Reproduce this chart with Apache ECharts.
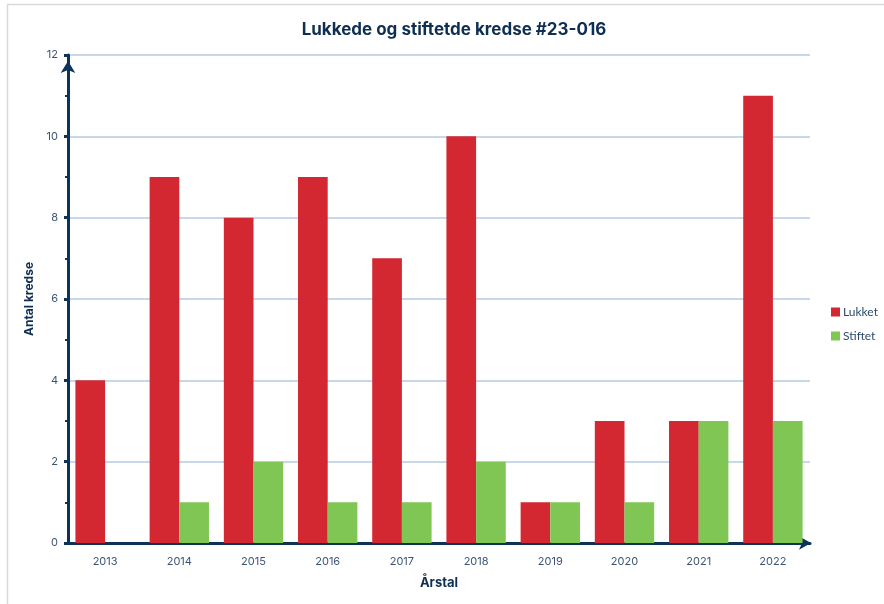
<!DOCTYPE html>
<html><head><meta charset="utf-8">
<script src="https://cdn.jsdelivr.net/npm/echarts@6/dist/echarts.min.js"></script>
<style>html,body{margin:0;padding:0;background:#fff}#c{width:884px;height:604px}</style>
</head><body><div id="c"></div>
<script>
const years = ['2013','2014','2015','2016','2017','2018','2019','2020','2021','2022'];
const lukket = [4,9,8,9,7,10,1,3,3,11];
const stiftet = [0,1,2,1,1,2,1,1,3,3];
const navy = '#0d3358';
const font = 'Inter';
const chart = echarts.init(document.getElementById('c'));
chart.setOption({
  animation:false,
  backgroundColor:'#fff',
  textStyle:{fontFamily:font},
  title:{text:'Lukkede og stiftetde kredse #23-016',left:449,top:16,textAlign:'center',
    textStyle:{fontFamily:font,fontSize:17,fontWeight:'bold',color:'#0e2f52'}},
  graphic:[
    {type:'line',shape:{x1:7,y1:4.5,x2:884,y2:4.5},style:{stroke:'#d9d9d9',lineWidth:1.5}},
    {type:'line',shape:{x1:7.5,y1:4,x2:7.5,y2:604},style:{stroke:'#d9d9d9',lineWidth:1.5}}
  ],
  legend:{orient:'vertical',left:826,top:301,itemWidth:9,itemHeight:9,itemGap:12,
    icon:'rect',textStyle:{fontFamily:'Lato',fontSize:12,color:'#2c4a6b',padding:[0,0,0,-2]},
    data:['Lukket','Stiftet']},
  grid:{left:68,right:74,top:55,bottom:61},
  xAxis:{type:'category',data:years,
    name:'Årstal',nameLocation:'middle',nameGap:34,
    nameTextStyle:{fontFamily:font,fontSize:13,fontWeight:'bold',color:'#0e2f52'},
    axisLine:{lineStyle:{color:navy,width:3},symbol:['none','arrow'],symbolSize:[10,12],symbolOffset:[0,1]},
    axisTick:{show:false},
    axisLabel:{margin:13,fontSize:11,color:'#3d5575',fontFamily:font}},
  yAxis:{type:'value',min:0,max:12,interval:2,
    name:'Antal kredse',nameLocation:'middle',nameGap:31,
    nameTextStyle:{fontFamily:font,fontSize:12,fontWeight:'bold',color:'#0e2f52'},
    axisLine:{show:true,lineStyle:{color:navy,width:3},symbol:['none','arrow'],symbolSize:[11,12],symbolOffset:[0,-6]},
    axisTick:{show:true,length:4,inside:false,lineStyle:{color:navy,width:3}},
    minorTick:{show:true,splitNumber:2,length:3,lineStyle:{color:navy,width:2}},
    axisLabel:{margin:10,fontSize:11,color:'#3d5575',fontFamily:font},
    splitLine:{lineStyle:{color:'#b6cbe0',width:1.5}}},
  series:[
    {name:'Lukket',type:'bar',data:lukket,barGap:'0%',barCategoryGap:'20%',
      itemStyle:{color:'#d32731'}},
    {name:'Stiftet',type:'bar',data:stiftet,
      itemStyle:{color:'#7fc655'}}
  ]
});
</script></body></html>
